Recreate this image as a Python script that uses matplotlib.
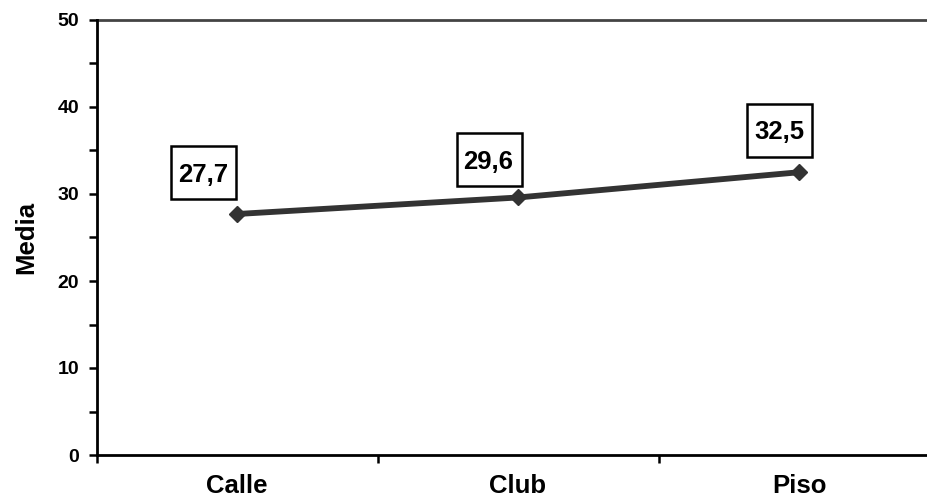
import matplotlib
matplotlib.use("Agg")
import matplotlib.pyplot as plt
import matplotlib.transforms as mtransforms
from matplotlib.patches import Rectangle
from matplotlib.ticker import MultipleLocator, FixedLocator

categories = ["Calle", "Club", "Piso"]
values = [27.7, 29.6, 32.5]
labels = ["27,7", "29,6", "32,5"]
yticks = [0, 10, 20, 30, 40, 50]

plt.rcParams['font.family'] = ['Liberation Sans', 'DejaVu Sans']

W, H = 927, 504
fig = plt.figure(figsize=(W / 100, H / 100), dpi=100)
x_left, y_bot, y_top = 96.5, 455, 20
cat_w = 281
ax = fig.add_axes([x_left / W, (H - y_bot) / H, 1 - x_left / W, (y_bot - y_top) / H])

x = [0.5, 1.5, 2.5]
ax.plot(x, values, color='#333333', lw=4.2, marker='D', ms=8, zorder=3)

ax.set_xlim(0, (W - x_left) / cat_w)
ax.set_ylim(0, 50)

# label boxes (pixel offsets from each data point: box x0, y0 (up), text centre)
box_w, box_h = 65, 53
box_offsets = [(-66, 15), (-61, 11), (-52, 15)]
text_offsets = [(-33.5, 41.5), (-29.5, 38), (-20, 42.5)]
for xi, v, lab, (bx, by), (tx, ty) in zip(x, values, labels, box_offsets, text_offsets):
    tr = mtransforms.IdentityTransform() + mtransforms.ScaledTranslation(xi, v, ax.transData)
    ax.add_patch(Rectangle((bx, by), box_w, box_h, transform=tr, fc='white',
                           ec='black', lw=1.8, zorder=4, clip_on=False))
    ax.text(tx, ty, lab, transform=tr, ha='center', va='center_baseline',
            fontsize=18.5, fontweight='bold', zorder=5)

ax.axhline(50, color='#444444', lw=2, zorder=1, clip_on=False)

for s in ['top', 'right']:
    ax.spines[s].set_visible(False)
ax.spines['left'].set_linewidth(2)
ax.spines['bottom'].set_linewidth(2)

ax.yaxis.set_major_locator(FixedLocator(yticks))
ax.yaxis.set_minor_locator(MultipleLocator(5))
ax.tick_params(axis='y', which='major', direction='out', length=6, width=1.8,
               labelsize=14, pad=6.5)
ax.tick_params(axis='y', which='minor', direction='out', length=6, width=1.8)
for t in ax.get_yticklabels():
    t.set_fontweight('bold')

ax.set_xticks(x)
ax.set_xticklabels(categories, fontsize=18.5, fontweight='bold')
ax.xaxis.set_minor_locator(FixedLocator([0, 1, 2, 3]))
ax.tick_params(axis='x', which='major', length=0, pad=14)
ax.tick_params(axis='x', which='minor', direction='out', length=6, width=1.8)

ax.set_ylabel("Media", fontsize=18.5, fontweight='bold', labelpad=14)

fig.savefig("out.png", dpi=100)
